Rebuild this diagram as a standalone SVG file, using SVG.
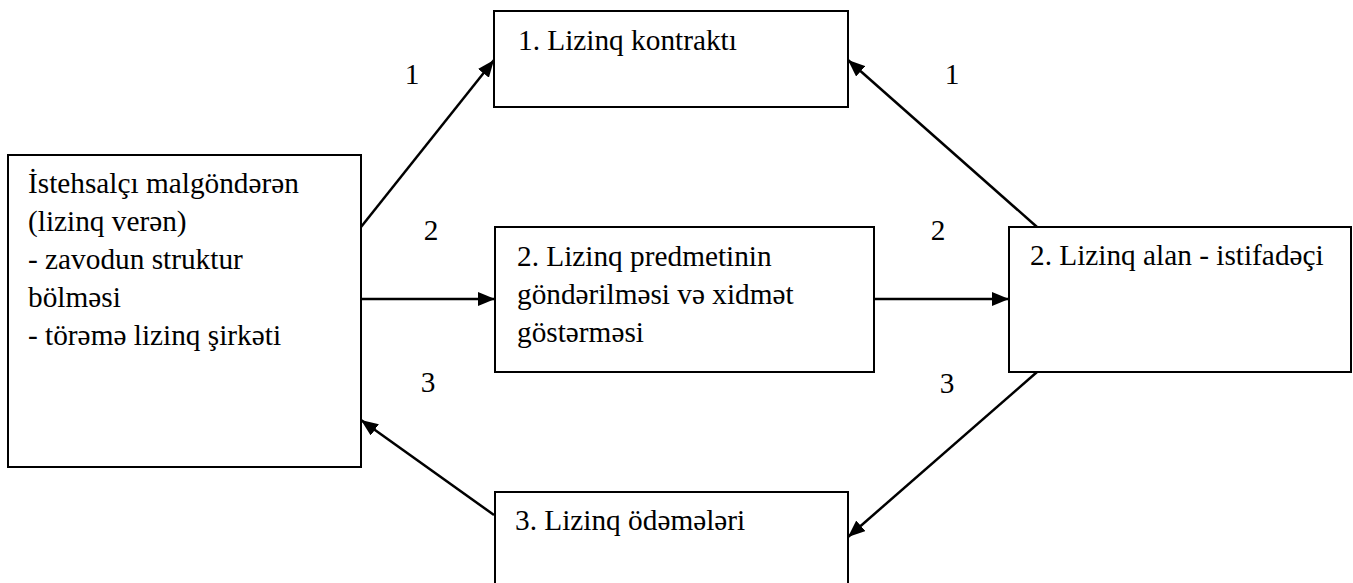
<svg xmlns="http://www.w3.org/2000/svg" width="1353" height="583" viewBox="0 0 1353 583">
<style>
.box{fill:#fff;stroke:#000;stroke-width:2}
.t{font-family:'Liberation Serif','DejaVu Serif',serif;font-size:29.3px;fill:#000}
.lbl{font-family:'Liberation Serif','DejaVu Serif',serif;font-size:29.3px;fill:#000;text-anchor:middle}
.c{stroke:#000;stroke-width:2.5;fill:none;marker-end:url(#ah)}
</style>
<defs>
<marker id="ah" markerUnits="userSpaceOnUse" markerWidth="18" markerHeight="14" refX="17" refY="7" orient="auto">
<path d="M0,0 L17,7 L0,14 Z" fill="#000"/>
</marker>
</defs>
<rect width="1353" height="583" fill="#fff"/>
<g id="connectors">
<line class="c" x1="361" y1="227" x2="494" y2="60"/>
<line class="c" x1="1037" y1="227" x2="848" y2="60"/>
<line class="c" x1="361" y1="299" x2="495" y2="299"/>
<line class="c" x1="874" y1="299" x2="1009" y2="299"/>
<line class="c" x1="1037" y1="372" x2="848" y2="537"/>
<line class="c" x1="494" y1="515" x2="361" y2="420"/>
</g>
<g id="labels">
<text class="lbl" x="412" y="84">1</text>
<text class="lbl" x="952" y="84">1</text>
<text class="lbl" x="431" y="240">2</text>
<text class="lbl" x="938" y="240">2</text>
<text class="lbl" x="428" y="392">3</text>
<text class="lbl" x="947" y="393">3</text>
</g>
<g id="node-lessor">
<rect class="box" x="8" y="155" width="353" height="312"/>
<text class="t" x="28" y="193">İstehsalçı malgöndərən</text>
<text class="t" x="28" y="231">(lizinq verən)</text>
<text class="t" x="28" y="269">- zavodun struktur</text>
<text class="t" x="28" y="307">bölməsi</text>
<text class="t" x="28" y="345">- törəmə lizinq şirkəti</text>
</g>
<g id="node-contract">
<rect class="box" x="494" y="11" width="354" height="96"/>
<text class="t" x="518" y="50">1. Lizinq kontraktı</text>
</g>
<g id="node-delivery">
<rect class="box" x="495" y="227" width="379" height="145"/>
<text class="t" x="517" y="266">2. Lizinq predmetinin</text>
<text class="t" x="517" y="304">göndərilməsi və xidmət</text>
<text class="t" x="517" y="342">göstərməsi</text>
</g>
<g id="node-lessee">
<rect class="box" x="1009" y="227" width="342" height="145"/>
<text class="t" x="1030" y="265">2. Lizinq alan - istifadəçi</text>
</g>
<g id="node-payments">
<rect class="box" x="495" y="492" width="353" height="100"/>
<text class="t" x="515" y="530">3. Lizinq ödəmələri</text>
</g>
</svg>
